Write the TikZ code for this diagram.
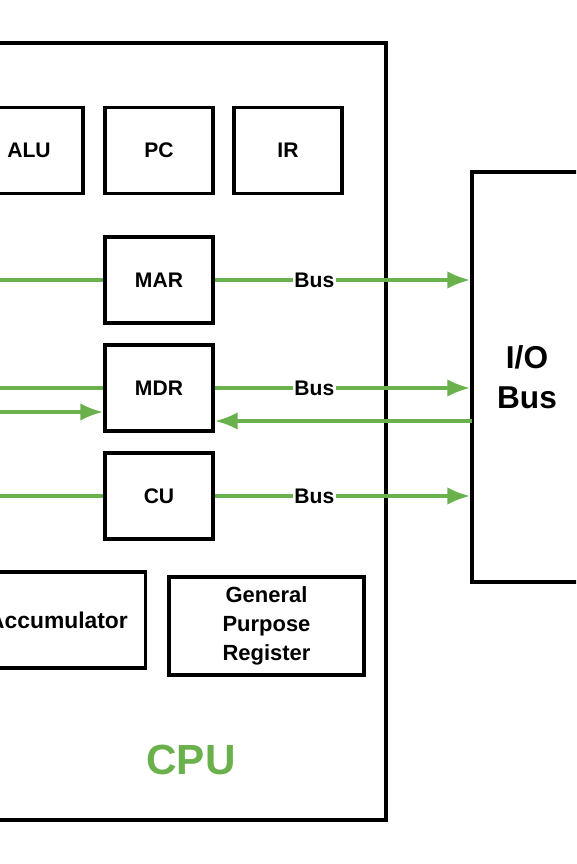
\documentclass[tikz,border=0pt]{standalone}
\usepackage{fontspec}
\setmainfont{Liberation Sans}
\usetikzlibrary{arrows.meta}
\definecolor{busgreen}{RGB}{106,176,76}

\begin{document}
\begin{tikzpicture}[x=0.02cm,y=-0.02cm,
    reg/.style={draw,line width=2pt,minimum width=2.16cm,minimum height=1.72cm,
      font=\bfseries\fontsize{12}{14}\selectfont},
    wire/.style={busgreen,line width=2.2pt},
    bus/.style={wire,-{Latex[length=13pt,width=10pt]}},
    buslabel/.style={fill=white,text=black,inner sep=1pt,font=\bfseries\fontsize{12}{14}\selectfont}]
      \useasboundingbox (0,0) rectangle (576,864);
      \clip (0,0) rectangle (576,864);

      \draw[line width=2pt] (-20,43) rectangle (386,820);

      \node[reg] (alu) at (29,150.5) {ALU};
      \node[reg] (pc) at (159,150.5) {PC};
      \node[reg] (ir) at (288,150.5) {IR};

      \node[reg] (mar) at (159,280) {MAR};
      \node[reg] (mdr) at (159,388) {MDR};
      \node[reg] (cu) at (159,496) {CU};

      \node[reg,minimum width=3.5cm,minimum height=1.92cm,font=\bfseries\fontsize{13}{15}\selectfont] (acc) at (58,620) {Accumulator};
      \node[reg,minimum width=3.9cm,minimum height=1.96cm,align=center,
        font=\bfseries\fontsize{12.5}{16.5}\selectfont] (gpr) at (266.5,626) {General\\Purpose\\Register};

      \node[text=busgreen,font=\bfseries\fontsize{24}{28}\selectfont] (cpu) at (191,760) {CPU};

      \node[draw,line width=2pt,minimum width=2.2cm,minimum height=8.2cm,align=center,
        font=\bfseries\fontsize{18}{22.5}\selectfont] (io) at (527,377) {I/O\\Bus};

      \coordinate (marin) at (0,280);
      \coordinate (mdrin) at (0,388);
      \coordinate (mdrload) at (0,412);
      \coordinate (cuin) at (0,496);
      \coordinate (ioret) at (472,421);

      \draw[wire] (marin) -- (mar);
      \draw[wire] (mdrin) -- (mdr);
      \draw[bus] (mdrload) -- (mdrload -| mdr.west);
      \draw[wire] (cuin) -- (cu);

      \draw[bus] (mar.east) -- node[buslabel,pos=0.39] {Bus} (mar.east -| io.west);
      \draw[bus] (mdr.east) -- node[buslabel,pos=0.39] {Bus} (mdr.east -| io.west);
      \draw[bus] (cu.east) -- node[buslabel,pos=0.39] {Bus} (cu.east -| io.west);
      \draw[bus] (ioret) -- (ioret -| mdr.east);
    \end{tikzpicture}
\end{document}
